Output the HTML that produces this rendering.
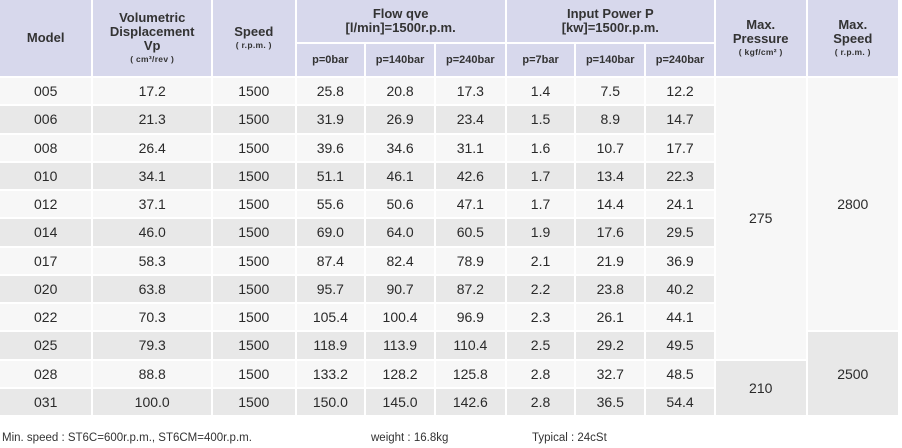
<!DOCTYPE html>
<html><head><meta charset="utf-8"><style>
body{margin:0;width:902px;height:448px;background:#fff;overflow:hidden;position:relative;font-family:"Liberation Sans",sans-serif;color:#2a2a2a}
table{position:absolute;left:-2px;top:-2px;border-collapse:separate;border-spacing:2px;table-layout:fixed}
td,th{padding:0;text-align:center;vertical-align:middle}
th{background:#d7d8ec;font-weight:bold;font-size:13px;line-height:14px;color:#333}
th small{display:block;font-size:8.5px;line-height:13px;letter-spacing:0.3px}
td{font-size:14px;height:26.25px}
tr.o td{background:#f7f7f7}
tr.e td{background:#e8e8e8}
td.l{background:#f7f7f7!important}
td.g{background:#e8e8e8!important}
.foot{position:absolute;top:432px;font-size:11.5px;color:#333}
</style></head><body>
<table>
<colgroup><col style="width:92px"><col style="width:118px"><col style="width:82px"><col style="width:68px"><col style="width:68px"><col style="width:69px"><col style="width:68px"><col style="width:68px"><col style="width:68px"><col style="width:90px"><col style="width:91px"></colgroup>
<tr style="height:42px"><th rowspan="2">Model</th><th rowspan="2">Volumetric<br>Displacement<br>Vp<small>( cm³/rev )</small></th><th rowspan="2">Speed<small>( r.p.m. )</small></th><th colspan="3">Flow qve<br>[l/min]=1500r.p.m.</th><th colspan="3">Input Power P<br>[kw]=1500r.p.m.</th><th rowspan="2">Max.<br>Pressure<small>( kgf/cm² )</small></th><th rowspan="2">Max.<br>Speed<small>( r.p.m. )</small></th></tr>
<tr style="height:32px"><th style="font-size:11px">p=0bar</th><th style="font-size:11px">p=140bar</th><th style="font-size:11px">p=240bar</th><th style="font-size:11px">p=7bar</th><th style="font-size:11px">p=140bar</th><th style="font-size:11px">p=240bar</th></tr>
<tr class="o"><td>005</td><td>17.2</td><td>1500</td><td>25.8</td><td>20.8</td><td>17.3</td><td>1.4</td><td>7.5</td><td>12.2</td><td rowspan="10" class="l">275</td><td rowspan="9" class="l">2800</td></tr>
<tr class="e"><td>006</td><td>21.3</td><td>1500</td><td>31.9</td><td>26.9</td><td>23.4</td><td>1.5</td><td>8.9</td><td>14.7</td></tr>
<tr class="o"><td>008</td><td>26.4</td><td>1500</td><td>39.6</td><td>34.6</td><td>31.1</td><td>1.6</td><td>10.7</td><td>17.7</td></tr>
<tr class="e"><td>010</td><td>34.1</td><td>1500</td><td>51.1</td><td>46.1</td><td>42.6</td><td>1.7</td><td>13.4</td><td>22.3</td></tr>
<tr class="o"><td>012</td><td>37.1</td><td>1500</td><td>55.6</td><td>50.6</td><td>47.1</td><td>1.7</td><td>14.4</td><td>24.1</td></tr>
<tr class="e"><td>014</td><td>46.0</td><td>1500</td><td>69.0</td><td>64.0</td><td>60.5</td><td>1.9</td><td>17.6</td><td>29.5</td></tr>
<tr class="o"><td>017</td><td>58.3</td><td>1500</td><td>87.4</td><td>82.4</td><td>78.9</td><td>2.1</td><td>21.9</td><td>36.9</td></tr>
<tr class="e"><td>020</td><td>63.8</td><td>1500</td><td>95.7</td><td>90.7</td><td>87.2</td><td>2.2</td><td>23.8</td><td>40.2</td></tr>
<tr class="o"><td>022</td><td>70.3</td><td>1500</td><td>105.4</td><td>100.4</td><td>96.9</td><td>2.3</td><td>26.1</td><td>44.1</td></tr>
<tr class="e"><td>025</td><td>79.3</td><td>1500</td><td>118.9</td><td>113.9</td><td>110.4</td><td>2.5</td><td>29.2</td><td>49.5</td><td rowspan="3" class="g">2500</td></tr>
<tr class="o"><td>028</td><td>88.8</td><td>1500</td><td>133.2</td><td>128.2</td><td>125.8</td><td>2.8</td><td>32.7</td><td>48.5</td><td rowspan="2" class="g">210</td></tr>
<tr class="e"><td>031</td><td>100.0</td><td>1500</td><td>150.0</td><td>145.0</td><td>142.6</td><td>2.8</td><td>36.5</td><td>54.4</td></tr>
</table>
<div class="foot" style="left:2px">Min. speed : ST6C=600r.p.m., ST6CM=400r.p.m.</div>
<div class="foot" style="left:371px">weight : 16.8kg</div>
<div class="foot" style="left:532px">Typical : 24cSt</div>
</body></html>
